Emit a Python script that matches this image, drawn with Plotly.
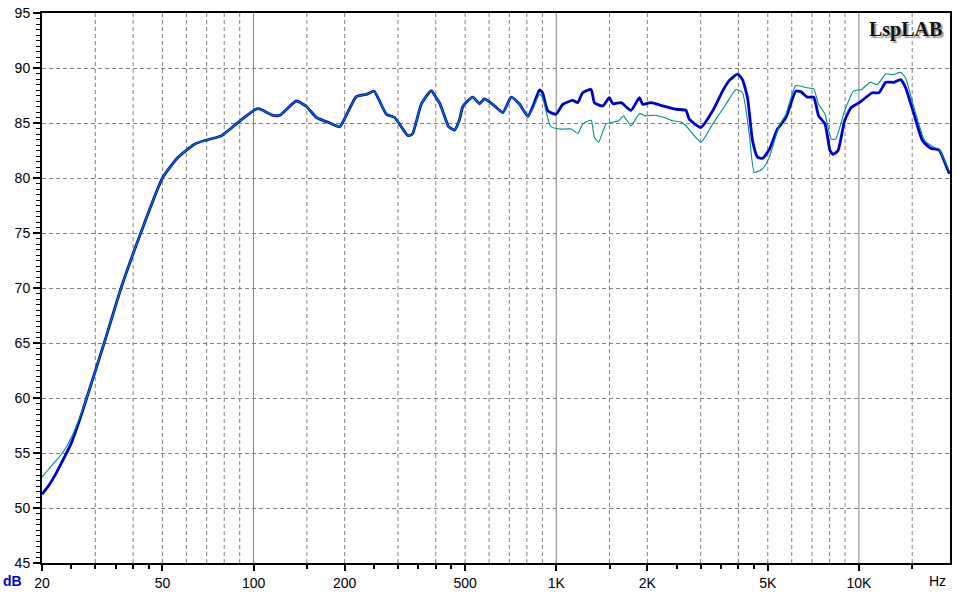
import math
import plotly.graph_objects as go

# ---- data ----
blue_freq = [20, 21, 22, 23, 24, 25, 26.7, 28.1, 32.1, 36.5, 42.4, 50, 56.4, 64, 69.9, 78.4, 90.3,
             101, 104, 116, 122, 138.5, 149.5, 161.4, 178.5, 192.5, 200, 218.6, 236, 250, 274.6,
             292.5, 323.6, 335, 358, 386.5, 401, 412, 433, 440, 461, 479, 491.6, 530, 558, 579,
             617, 666, 710, 757, 806, 840, 880, 901, 938, 999, 1051, 1134, 1177, 1223, 1304, 1337,
             1425, 1497, 1540, 1638, 1767, 1883, 1930, 2057, 2247, 2488, 2683, 2750, 3008, 3287,
             3545, 3727, 3975, 4125, 4286, 4452, 4625, 4810, 5060, 5383, 5741, 6190, 6426, 6753,
             7090, 7360, 7730, 8027, 8220, 8535, 8970, 9425, 10030, 11080, 11650, 12270, 13070,
             13740, 14270, 15210, 16220, 17270, 18400, 19840, 20000]
blue_db = [51.25, 52.0, 52.9, 53.9, 54.9, 55.9, 58.1, 60.0, 65.0, 70.0, 75.0, 80.0, 81.9, 83.1, 83.45,
           83.85, 85.2, 86.2, 86.3, 85.7, 85.7, 87.0, 86.5, 85.5, 85.0, 84.65, 85.4, 87.4, 87.6, 87.9,
           85.8, 85.5, 83.85, 84.0, 86.7, 87.95, 87.3, 86.8, 85.2, 84.7, 84.35, 85.3, 86.5, 87.35,
           86.75, 87.2, 86.7, 85.95, 87.35, 86.7, 85.6, 86.6, 88.0, 87.75, 86.1, 85.8, 86.7, 87.05,
           86.85, 87.75, 88.05, 86.85, 86.55, 87.3, 86.75, 86.85, 86.15, 87.3, 86.7, 86.85, 86.55,
           86.25, 86.15, 85.35, 84.6, 86.1, 87.9, 88.85, 89.45, 88.95, 87.3, 83.4, 81.9, 81.8, 82.6,
           84.45, 85.5, 87.9, 87.85, 87.35, 87.35, 85.65, 84.9, 82.5, 82.15, 82.5, 85.2, 86.4, 86.85,
           87.75, 87.75, 88.7, 88.7, 88.95, 88.2, 85.8, 83.4, 82.7, 82.55, 80.5, 80.45]

teal_freq = [20, 21, 22, 23, 24, 25, 26.7, 28.1, 32.1, 36.5, 42.4, 50, 56.4, 64, 69.9, 78.4, 90.3,
             101, 104, 116, 122, 138.5, 149.5, 161.4, 178.5, 192.5, 200, 218.6, 236, 250, 274.6,
             292.5, 323.6, 335, 358, 386.5, 401, 412, 433, 440, 461, 479, 491.6, 530, 558, 579,
             617, 666, 710, 757, 806, 840, 880, 901, 958, 1028, 1120, 1180, 1223, 1304, 1337, 1380,
             1460, 1608, 1668, 1767, 1883, 1978, 2110, 2274, 2424, 2583, 2683, 3008, 3287, 3636,
             3924, 4125, 4343, 4516, 4810, 5060, 5457, 5741, 6190, 6753, 7090, 7360, 7730, 8100,
             8380, 8970, 9600, 10200, 10900, 11500, 12270, 12950, 13740, 14270, 15000, 16500,
             17700, 18400, 19840, 20000]
teal_db = [52.8, 53.5, 54.15, 54.75, 55.5, 56.4, 58.3, 60.0, 65.0, 70.0, 75.0, 80.0, 81.9, 83.1, 83.45,
           83.85, 85.2, 86.2, 86.3, 85.7, 85.7, 87.0, 86.5, 85.5, 85.0, 84.65, 85.4, 87.4, 87.6, 87.9,
           85.8, 85.5, 83.85, 84.0, 86.7, 87.95, 87.3, 86.8, 85.2, 84.7, 84.35, 85.3, 86.5, 87.35,
           86.75, 87.2, 86.7, 85.95, 87.35, 86.7, 85.6, 86.4, 87.6, 87.3, 84.7, 84.45, 84.45, 84.05,
           84.9, 85.25, 83.7, 83.25, 84.9, 85.2, 85.65, 84.75, 85.85, 85.65, 85.7, 85.5, 85.2, 85.1,
           84.75, 83.25, 84.9, 86.7, 88.05, 87.75, 84.0, 80.5, 80.85, 81.9, 84.75, 85.8, 88.4, 88.2,
           88.1, 86.7, 85.8, 83.55, 83.55, 86.1, 87.9, 88.05, 88.7, 88.5, 89.45, 89.4, 89.6, 89.1,
           87.0, 83.4, 82.8, 82.6, 80.7, 80.6]

major_ticks = [20, 50, 100, 200, 500, 1000, 2000, 5000, 10000]
major_text = ["20", "50", "100", "200", "500", "1K", "2K", "5K", "10K"]
minor_ticks = [25, 30, 35, 40, 45, 150, 250, 300, 350, 400, 450, 1500, 2500, 3000, 3500, 4000,
               4500, 15000]
dashed_grid = [30, 40, 50, 60, 70, 80, 90, 150, 200, 300, 400, 500, 600, 700, 800, 900, 1500,
               2000, 3000, 4000, 5000, 6000, 7000, 8000, 9000, 15000]
solid_grid = [100, 1000, 10000]
y_ticks = [45, 50, 55, 60, 65, 70, 75, 80, 85, 90, 95]

xr = [math.log10(20), math.log10(20000)]
font = "Liberation Sans, Arial, sans-serif"
gridcol = "#808080"

fig = go.Figure()
fig.add_trace(go.Scatter(x=blue_freq, y=blue_db, mode="lines",
                         line=dict(color="#0000CC", width=2.8, shape="spline", smoothing=0.5),
                         showlegend=False, hoverinfo="skip"))
fig.add_trace(go.Scatter(x=teal_freq, y=teal_db, mode="lines",
                         line=dict(color="#008B8B", width=1.1, shape="spline", smoothing=0.5),
                         showlegend=False, hoverinfo="skip"))

shapes = []
for v in dashed_grid:
    shapes.append(dict(type="line", xref="x", yref="paper", x0=v, x1=v, y0=0, y1=1,
                       layer="below", line=dict(color=gridcol, width=1, dash="4px,3px")))
for v in solid_grid:
    shapes.append(dict(type="line", xref="x", yref="paper", x0=v, x1=v, y0=0, y1=1,
                       layer="below", line=dict(color=gridcol, width=1)))

fig.update_layout(
    width=957, height=596,
    margin=dict(l=42, r=5, t=11, b=30),
    paper_bgcolor="white", plot_bgcolor="white",
    font=dict(family=font, size=14, color="black"),
    shapes=shapes,
    xaxis=dict(type="log", range=xr, tickmode="array", tickvals=major_ticks, ticktext=major_text,
               ticks="outside", ticklen=6, tickwidth=2, tickcolor="black",
               showgrid=False, zeroline=False,
               showline=True, linewidth=2, linecolor="black", mirror=True,
               minor=dict(tickmode="array", tickvals=minor_ticks, ticks="outside", ticklen=4,
                          tickwidth=2, tickcolor="black", showgrid=False),
               tickfont=dict(family=font, size=14, color="black")),
    yaxis=dict(range=[45, 95], tickmode="array", tickvals=y_ticks,
               ticks="outside", ticklen=7, tickwidth=2, tickcolor="black",
               showgrid=True, gridcolor=gridcol, gridwidth=1, griddash="4px,3px",
               zeroline=False, showline=True, linewidth=2, linecolor="black", mirror=True,
               minor=dict(dtick=0.5, tick0=45, ticks="outside", ticklen=4, tickwidth=1,
                          tickcolor="black", showgrid=False),
               tickfont=dict(family=font, size=14, color="black")),
    annotations=[
        dict(text="<b>dB</b>", xref="paper", yref="paper", x=-0.0455, y=-0.032,
             xanchor="left", yanchor="middle", showarrow=False,
             font=dict(family=font, size=14, color="#0000CC")),
        dict(text="Hz", xref="paper", yref="paper", x=0.998, y=-0.032,
             xanchor="right", yanchor="middle", showarrow=False,
             font=dict(family=font, size=14, color="black")),
        dict(text="<b>LspLAB</b>", xref="paper", yref="paper", x=0.993, y=0.995,
             xanchor="right", yanchor="top", showarrow=False,
             font=dict(family="Liberation Serif, Times New Roman, serif", size=20,
                       color="#111111", shadow="2px 2px 1px #9a9a9a")),
    ],
)

fig.write_html("out.html", config={"displayModeBar": False},
               post_script="document.body.style.margin='0';document.body.style.padding='0';"
                           "document.body.style.overflow='hidden';")
